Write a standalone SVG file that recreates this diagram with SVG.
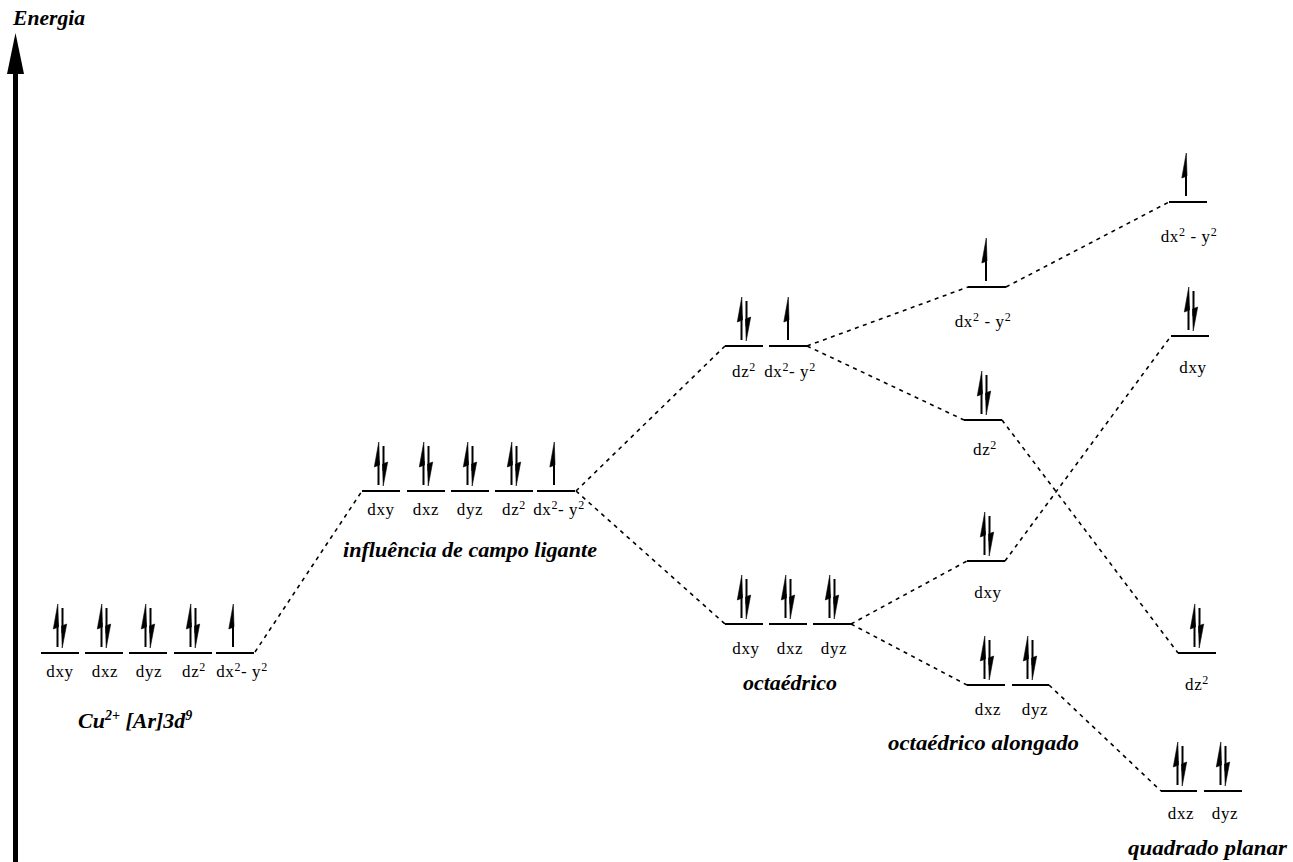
<svg xmlns="http://www.w3.org/2000/svg" xmlns:xlink="http://www.w3.org/1999/xlink" width="1293" height="862" viewBox="0 0 1293 862">
<style>
.lv{stroke:#000;stroke-width:2;fill:none}
.cn{stroke:#000;stroke-width:1.6;fill:none;stroke-dasharray:4 4.5}
.lb{font-family:"Liberation Serif","Times New Roman",serif;font-size:17px;letter-spacing:0.6px;text-anchor:middle;fill:#000}
.sp{font-size:12px}
.tt{font-family:"Liberation Serif","Times New Roman",serif;font-size:22px;font-weight:bold;font-style:italic;fill:#000}
</style>
<defs>
<g id="up"><line x1="0" y1="-6" x2="0" y2="-30" stroke="#000" stroke-width="2"/><polygon points="0.3,-49 -4.2,-24 1,-26" fill="#000" stroke="#000" stroke-width="0.6"/></g>
<g id="dn"><line x1="0" y1="-45" x2="0" y2="-20" stroke="#000" stroke-width="2"/><polygon points="-0.3,-5 4.2,-29 -1,-27" fill="#000" stroke="#000" stroke-width="0.6"/></g>
<g id="pair"><use xlink:href="#up" x="-2.5"/><use xlink:href="#dn" x="2.5"/></g>
</defs>
<rect width="1293" height="862" fill="#fff"/>

<g id="energy-axis">
<line x1="15.5" y1="862" x2="15.5" y2="70" stroke="#000" stroke-width="5"/>
<polygon points="15.5,33 7,74 24,74" fill="#000"/>
<text class="tt" x="13" y="25" font-size="19" textLength="72" lengthAdjust="spacingAndGlyphs">Energia</text>
</g>

<g id="connectors">
<line class="cn" x1="255" y1="652" x2="362" y2="491"/>
<line class="cn" x1="576" y1="491" x2="725" y2="346"/>
<line class="cn" x1="576" y1="491" x2="725" y2="624"/>
<line class="cn" x1="807" y1="346" x2="968" y2="287"/>
<line class="cn" x1="807" y1="346" x2="964" y2="420"/>
<line class="cn" x1="1006" y1="287" x2="1169" y2="202"/>
<line class="cn" x1="1002" y1="420" x2="1178" y2="653"/>
<line class="cn" x1="851" y1="624" x2="967" y2="561"/>
<line class="cn" x1="851" y1="624" x2="967" y2="685"/>
<line class="cn" x1="1005" y1="561" x2="1171" y2="336"/>
<line class="cn" x1="1049" y1="685" x2="1161" y2="791"/>
</g>

<g id="free-ion">
<line class="lv" x1="41" y1="653" x2="79" y2="653"/>
<line class="lv" x1="85" y1="653" x2="123" y2="653"/>
<line class="lv" x1="129" y1="653" x2="167" y2="653"/>
<line class="lv" x1="174" y1="653" x2="212" y2="653"/>
<line class="lv" x1="216" y1="653" x2="254" y2="653"/>
<use xlink:href="#pair" x="60" y="653"/>
<use xlink:href="#pair" x="104" y="653"/>
<use xlink:href="#pair" x="148" y="653"/>
<use xlink:href="#pair" x="193" y="653"/>
<use xlink:href="#up" x="233" y="653"/>
<text class="lb" x="60" y="677">dxy</text>
<text class="lb" x="105" y="677">dxz</text>
<text class="lb" x="149" y="677">dyz</text>
<text class="lb" x="194" y="677">dz<tspan class="sp" dy="-6">2</tspan></text>
<text class="lb" x="242" y="677">dx<tspan class="sp" dy="-6">2</tspan><tspan dy="6">- y</tspan><tspan class="sp" dy="-6">2</tspan></text>
<text class="tt" x="78" y="728" font-size="21">Cu<tspan font-size="14" dy="-8">2+</tspan><tspan dy="8"> [Ar]3d</tspan><tspan font-size="14" dy="-8">9</tspan></text>
</g>

<g id="ligand-field">
<line class="lv" x1="362" y1="491" x2="400" y2="491"/>
<line class="lv" x1="407" y1="491" x2="445" y2="491"/>
<line class="lv" x1="451" y1="491" x2="489" y2="491"/>
<line class="lv" x1="495" y1="491" x2="533" y2="491"/>
<line class="lv" x1="537" y1="491" x2="575" y2="491"/>
<use xlink:href="#pair" x="381" y="491"/>
<use xlink:href="#pair" x="426" y="491"/>
<use xlink:href="#pair" x="470" y="491"/>
<use xlink:href="#pair" x="514" y="491"/>
<use xlink:href="#up" x="554" y="491"/>
<text class="lb" x="381" y="515">dxy</text>
<text class="lb" x="426" y="515">dxz</text>
<text class="lb" x="470" y="515">dyz</text>
<text class="lb" x="514" y="515">dz<tspan class="sp" dy="-6">2</tspan></text>
<text class="lb" x="559" y="515">dx<tspan class="sp" dy="-6">2</tspan><tspan dy="6">- y</tspan><tspan class="sp" dy="-6">2</tspan></text>
<text class="tt" x="343" y="557" textLength="254" lengthAdjust="spacingAndGlyphs">influência de campo ligante</text>
</g>

<g id="oct-eg">
<line class="lv" x1="725" y1="346" x2="763" y2="346"/>
<line class="lv" x1="769" y1="346" x2="807" y2="346"/>
<use xlink:href="#pair" x="744" y="346"/>
<use xlink:href="#up" x="788" y="346"/>
<text class="lb" x="744" y="377">dz<tspan class="sp" dy="-6">2</tspan></text>
<text class="lb" x="790" y="377">dx<tspan class="sp" dy="-6">2</tspan><tspan dy="6">- y</tspan><tspan class="sp" dy="-6">2</tspan></text>
</g>

<g id="oct-t2g">
<line class="lv" x1="725" y1="624" x2="763" y2="624"/>
<line class="lv" x1="769" y1="624" x2="807" y2="624"/>
<line class="lv" x1="813" y1="624" x2="851" y2="624"/>
<use xlink:href="#pair" x="744" y="624"/>
<use xlink:href="#pair" x="788" y="624"/>
<use xlink:href="#pair" x="832" y="624"/>
<text class="lb" x="746" y="654">dxy</text>
<text class="lb" x="790" y="654">dxz</text>
<text class="lb" x="834" y="654">dyz</text>
<text class="tt" x="743" y="690" textLength="94" lengthAdjust="spacingAndGlyphs">octaédrico</text>
</g>

<g id="elong-dx2y2">
<line class="lv" x1="968" y1="287" x2="1006" y2="287"/>
<use xlink:href="#up" x="986" y="287"/>
<text class="lb" x="983" y="327">dx<tspan class="sp" dy="-6">2</tspan><tspan dy="6"> - y</tspan><tspan class="sp" dy="-6">2</tspan></text>
</g>

<g id="elong-dz2">
<line class="lv" x1="964" y1="420" x2="1002" y2="420"/>
<use xlink:href="#pair" x="984" y="420"/>
<text class="lb" x="985" y="455">dz<tspan class="sp" dy="-6">2</tspan></text>
</g>

<g id="elong-dxy">
<line class="lv" x1="967" y1="561" x2="1005" y2="561"/>
<use xlink:href="#pair" x="987" y="561"/>
<text class="lb" x="988" y="598">dxy</text>
</g>

<g id="elong-dxz-dyz">
<line class="lv" x1="967" y1="685" x2="1005" y2="685"/>
<line class="lv" x1="1012" y1="685" x2="1049" y2="685"/>
<use xlink:href="#pair" x="987" y="685"/>
<use xlink:href="#pair" x="1030" y="685"/>
<text class="lb" x="988" y="715">dxz</text>
<text class="lb" x="1035" y="715">dyz</text>
<text class="tt" x="888" y="750" textLength="191" lengthAdjust="spacingAndGlyphs">octaédrico alongado</text>
</g>

<g id="sp-dx2y2">
<line class="lv" x1="1169" y1="202" x2="1207" y2="202"/>
<use xlink:href="#up" x="1186" y="202"/>
<text class="lb" x="1189" y="242">dx<tspan class="sp" dy="-6">2</tspan><tspan dy="6"> - y</tspan><tspan class="sp" dy="-6">2</tspan></text>
</g>

<g id="sp-dxy">
<line class="lv" x1="1171" y1="336" x2="1209" y2="336"/>
<use xlink:href="#pair" x="1191" y="336"/>
<text class="lb" x="1193" y="373">dxy</text>
</g>

<g id="sp-dz2">
<line class="lv" x1="1178" y1="653" x2="1216" y2="653"/>
<use xlink:href="#pair" x="1197" y="653"/>
<text class="lb" x="1197" y="690">dz<tspan class="sp" dy="-6">2</tspan></text>
</g>

<g id="sp-dxz-dyz">
<line class="lv" x1="1161" y1="791" x2="1197" y2="791"/>
<line class="lv" x1="1204" y1="791" x2="1242" y2="791"/>
<use xlink:href="#pair" x="1180" y="791"/>
<use xlink:href="#pair" x="1223" y="791"/>
<text class="lb" x="1181" y="819">dxz</text>
<text class="lb" x="1225" y="819">dyz</text>
<text class="tt" x="1128" y="855" textLength="159" lengthAdjust="spacingAndGlyphs">quadrado planar</text>
</g>
</svg>
